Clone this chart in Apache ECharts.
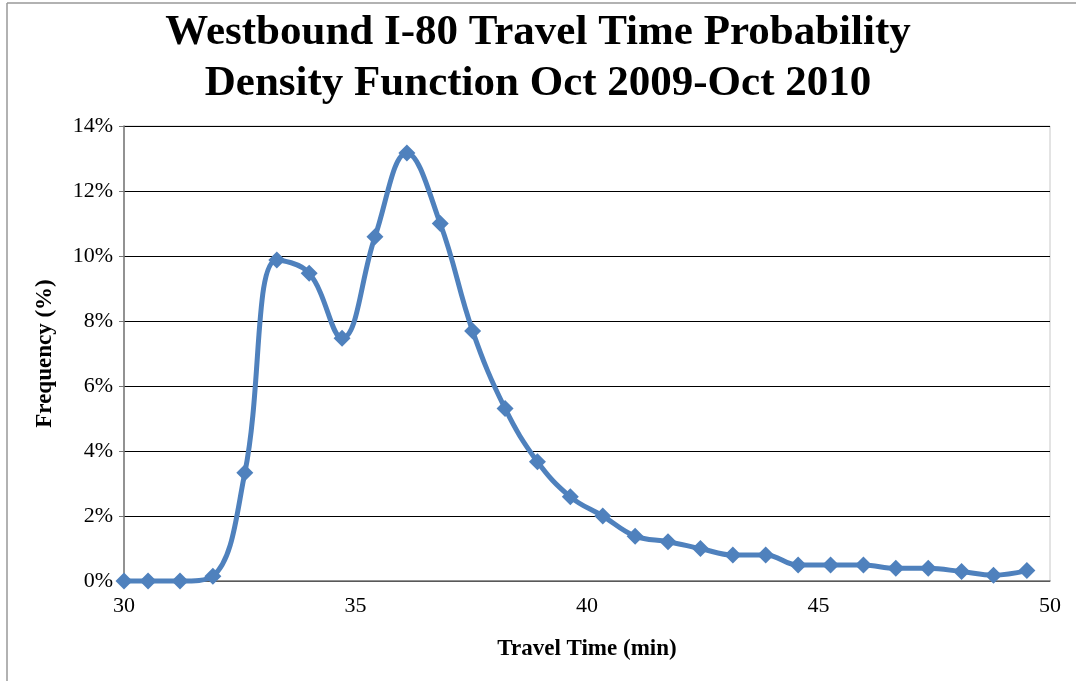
<!DOCTYPE html>
<html>
<head>
<meta charset="utf-8">
<script src="https://cdn.jsdelivr.net/npm/echarts@6/dist/echarts.min.js"></script>
<style>
html,body{margin:0;padding:0;background:#fff;}
#chart{width:1076px;height:681px;}
</style>
</head>
<body>
<div id="chart"></div>
<script>
const travelTime = [30.0, 30.52, 31.21, 31.92, 32.61, 33.30, 34.0, 34.71, 35.42, 36.11, 36.83, 37.53,
  38.23, 38.93, 39.64, 40.34, 41.04, 41.75, 42.45, 43.15, 43.86, 44.56, 45.26, 45.97, 46.67, 47.37, 48.09, 48.78, 49.5];
const frequency = [0, 0, 0, 0.15, 3.33, 9.88, 9.47, 7.47, 10.59, 13.17, 11.0, 7.69,
  5.31, 3.67, 2.59, 2.0, 1.38, 1.21, 1.0, 0.8, 0.8, 0.49, 0.49, 0.49, 0.39, 0.39, 0.29, 0.18, 0.32];
const titleLines = ['Westbound I-80 Travel Time Probability', 'Density Function Oct 2009-Oct 2010'];
const xAxisName = 'Travel Time (min)';
const yAxisName = 'Frequency (%)';

const chart = echarts.init(document.getElementById('chart'));
const serif = '"Liberation Serif", "DejaVu Serif", serif';
chart.setOption({
  animation: false,
  backgroundColor: '#fff',
  title: {
    text: titleLines.join('\n'),
    left: 'center',
    top: 2,
    textStyle: { fontFamily: serif, fontWeight: 'bold', fontSize: 43, lineHeight: 51, color: '#000' }
  },
  grid: { left: 124, right: 26, top: 126, bottom: 100, show: true, borderColor: '#c8c8c8', borderWidth: 1 },
  xAxis: {
    type: 'value', min: 30, max: 50, interval: 5,
    name: xAxisName, nameLocation: 'middle', nameGap: 57,
    nameTextStyle: { fontFamily: serif, fontWeight: 'bold', fontSize: 23, color: '#000' },
    axisLine: { show: true, onZero: false, lineStyle: { color: '#777', width: 1.5 } },
    axisTick: { show: false },
    splitLine: { show: false },
    axisLabel: { fontFamily: serif, fontSize: 22, color: '#000', margin: 14 }
  },
  yAxis: {
    type: 'value', min: 0, max: 14, interval: 2,
    name: yAxisName, nameLocation: 'middle', nameGap: 67,
    nameTextStyle: { fontFamily: serif, fontWeight: 'bold', fontSize: 23, color: '#000' },
    axisLine: { show: true, lineStyle: { color: '#777', width: 1.5 } },
    axisTick: { show: true, length: 5, inside: false, lineStyle: { color: '#777' } },
    splitLine: { show: true, lineStyle: { color: '#000', width: 1.2 } },
    axisLabel: { fontFamily: serif, fontSize: 22, color: '#000', margin: 11, formatter: '{value}%' }
  },
  graphic: [
    { type: 'line', shape: { x1: 7, y1: 3, x2: 7, y2: 681 }, style: { stroke: '#999', lineWidth: 1.5 } },
    { type: 'line', shape: { x1: 7, y1: 3, x2: 1076, y2: 3 }, style: { stroke: '#999', lineWidth: 1.5 } }
  ],
  series: [{
    type: 'line',
    data: travelTime.map((t, i) => [t, frequency[i]]),
    smooth: 0.4,
    symbol: 'diamond',
    symbolSize: 17,
    lineStyle: { color: '#4F81BD', width: 5 },
    itemStyle: { color: '#4F81BD' },
    clip: false
  }]
});
</script>
</body>
</html>
